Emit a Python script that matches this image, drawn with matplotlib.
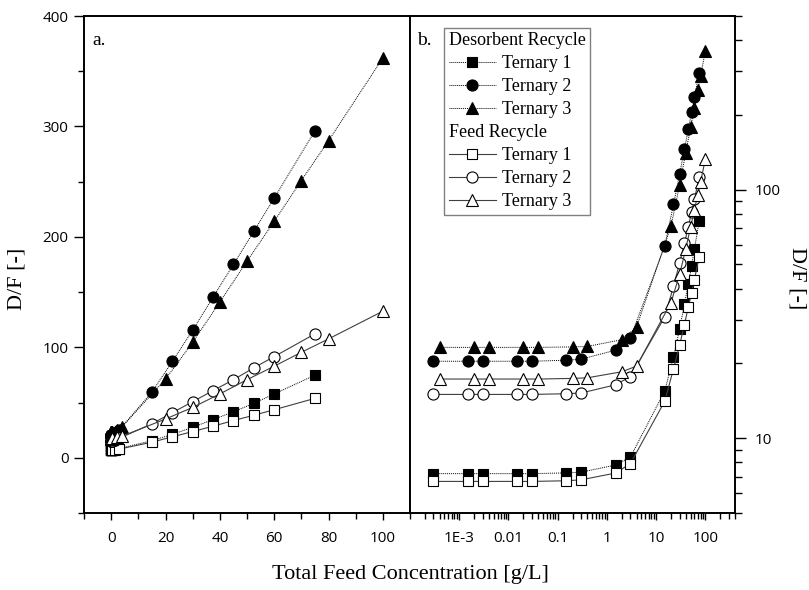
"""D/F versus total feed concentration for the three ternary mixtures,
desorbent recycle vs. feed recycle: linear scale (a.) and log-log scale (b.)."""
import matplotlib
matplotlib.use("Agg")
import matplotlib.pyplot as plt
from matplotlib.lines import Line2D
from matplotlib.ticker import FixedLocator, MultipleLocator, LogLocator, NullFormatter

plt.rcParams["font.family"] = ["Open Sans", "DejaVu Sans"]
SERIF = ["Liberation Serif", "DejaVu Serif"]

# feed concentrations [g/L]
conc_t12 = [3e-4, 1.5e-3, 3e-3, 0.015, 0.03, 0.15, 0.3, 1.5, 3,
            15, 22.5, 30, 37.5, 45, 52.5, 60, 75]
conc_t3 = [4e-4, 2e-3, 4e-3, 0.02, 0.04, 0.2, 0.4, 2, 4,
           20, 30, 40, 50, 60, 70, 80, 100]

# D/F, desorbent recycle
des_t1 = [7.2, 7.2, 7.2, 7.2, 7.2, 7.25, 7.3, 7.8, 8.4,
          15.5, 21.2, 27.6, 34.6, 41.6, 49.3, 57.8, 74.8]
des_t2 = [20.4, 20.4, 20.4, 20.4, 20.4, 20.6, 20.8, 22.6, 25.3,
          59.5, 87.2, 115.5, 145.4, 175, 205, 235, 296]
des_t3 = [23.2, 23.2, 23.2, 23.2, 23.2, 23.3, 23.4, 24.9, 28.0,
          71.2, 104.5, 141, 178, 214, 251, 287, 362]

# D/F, feed recycle
feed_t1 = [6.7, 6.7, 6.7, 6.7, 6.7, 6.74, 6.8, 7.24, 7.9,
           14.1, 19.0, 23.7, 28.6, 33.7, 38.5, 43.5, 53.8]
feed_t2 = [15.0, 15.0, 15.0, 15.0, 15.0, 15.1, 15.2, 16.4, 17.7,
           30.8, 40.8, 50.8, 60.8, 70.7, 81.4, 91.6, 112.2]
feed_t3 = [17.3, 17.3, 17.3, 17.3, 17.3, 17.4, 17.5, 18.5, 19.5,
           35.1, 45.6, 57.8, 70.7, 82.9, 95.5, 107.6, 132.7]

x_ticks_log = [1e-3, 1e-2, 0.1, 1, 10, 100]
x_ticklabels_log = ["1E-3", "0.01", "0.1", "1", "10", "100"]

SERIES = [
    (conc_t12, des_t1, "s", "black", (0, (1, 1)), 0.7, "black"),
    (conc_t12, des_t2, "o", "black", (0, (1, 1)), 0.7, "black"),
    (conc_t3, des_t3, "^", "black", (0, (1, 1)), 0.7, "black"),
    (conc_t12, feed_t1, "s", "white", "-", 0.8, "#404040"),
    (conc_t12, feed_t2, "o", "white", "-", 0.8, "#404040"),
    (conc_t3, feed_t3, "^", "white", "-", 0.8, "#404040"),
]
MSIZE = {"s": 7.2, "o": 8.0, "^": 8.3}


def draw(ax):
    lines = []
    for x, y, m, fc, ls, lw, lc in SERIES:
        ln, = ax.plot(x, y, linestyle=ls, linewidth=lw, color=lc, marker=m,
                      markersize=MSIZE[m], markerfacecolor=fc,
                      markeredgecolor="black", markeredgewidth=0.8)
        lines.append(ln)
    return lines


fig = plt.figure(figsize=(8.09, 5.9), dpi=100)
ax1 = fig.add_axes([84 / 809, 1 - 513 / 590, 326 / 809, 497 / 590])
ax2 = fig.add_axes([410 / 809, 1 - 513 / 590, 325 / 809, 497 / 590])

for ax in (ax1, ax2):
    for sp in ax.spines.values():
        sp.set_linewidth(1.4)

# a. linear
draw(ax1)
ax1.set_xlim(-10, 110)
ax1.set_ylim(-50, 400)
ax1.xaxis.set_major_locator(MultipleLocator(20))
ax1.xaxis.set_minor_locator(MultipleLocator(10))
ax1.yaxis.set_major_locator(MultipleLocator(100))
ax1.yaxis.set_minor_locator(MultipleLocator(50))
ax1.tick_params(axis="x", which="major", length=5, width=1, pad=8, labelsize=11)
ax1.tick_params(axis="x", which="minor", length=4, width=1)
ax1.tick_params(axis="y", which="major", length=7, width=1, pad=4, labelsize=11)
ax1.tick_params(axis="y", which="minor", length=4, width=1)
ax1.text(0.025, 0.968, "a.", transform=ax1.transAxes, ha="left", va="top",
         fontsize=14, family=SERIF)

# b. log-log
lines = draw(ax2)
ax2.set_xscale("log")
ax2.set_yscale("log")
ax2.set_xlim(1e-4, 400)
ax2.set_ylim(5, 500)
ax2.xaxis.set_major_locator(FixedLocator(x_ticks_log))
ax2.set_xticklabels(x_ticklabels_log)
ax2.xaxis.set_minor_locator(LogLocator(base=10, subs=range(2, 10), numticks=20))
ax2.xaxis.set_minor_formatter(NullFormatter())
ax2.yaxis.tick_right()
ax2.yaxis.set_major_locator(FixedLocator([10, 100]))
ax2.set_yticklabels(["10", "100"])
ax2.yaxis.set_minor_locator(LogLocator(base=10, subs=range(2, 10), numticks=20))
ax2.yaxis.set_minor_formatter(NullFormatter())
ax2.tick_params(axis="x", which="major", length=5, width=1, pad=8, labelsize=11)
ax2.tick_params(axis="x", which="minor", length=4, width=1)
ax2.tick_params(axis="y", which="major", length=8, width=1, pad=6, labelsize=11)
ax2.tick_params(axis="y", which="minor", length=5, width=1)
ax2.text(0.022, 0.968, "b.", transform=ax2.transAxes, ha="left", va="top",
         fontsize=14, family=SERIF)

blank = Line2D([], [], linestyle="none", marker="none")
headers = ["Desorbent Recycle", "Feed Recycle"]
handles = [blank] + lines[:3] + [blank] + lines[3:]
labels = [headers[0], "Ternary 1", "Ternary 2", "Ternary 3",
          headers[1], "Ternary 1", "Ternary 2", "Ternary 3"]
leg = ax2.legend(handles, labels, loc="upper left", bbox_to_anchor=(0.105, 0.976),
                 borderaxespad=0, borderpad=0.25, fancybox=False, framealpha=1,
                 edgecolor="#808080", handlelength=2.6, handletextpad=0.35,
                 labelspacing=0.33, prop={"family": SERIF, "size": 13})
leg.get_frame().set_linewidth(1.0)
# header rows sit flush left, without a handle
col = leg._legend_handle_box.get_children()[0]
for row, lab in zip(col.get_children(), labels):
    if lab in headers:
        row.get_children()[0].set_width(0)
        row.sep = 0

fig.text(17 / 809, 1 - 279 / 590, "D/F [-]", rotation=90, ha="center",
         va="center", fontsize=16, family=SERIF)
fig.text(797 / 809, 1 - 278 / 590, "D/F [-]", rotation=270, ha="center",
         va="center", fontsize=16, family=SERIF)
fig.text(410 / 809, 1 - 575 / 590, "Total Feed Concentration [g/L]", ha="center",
         va="center", fontsize=16, family=SERIF)

fig.savefig("out.png", dpi=100)
